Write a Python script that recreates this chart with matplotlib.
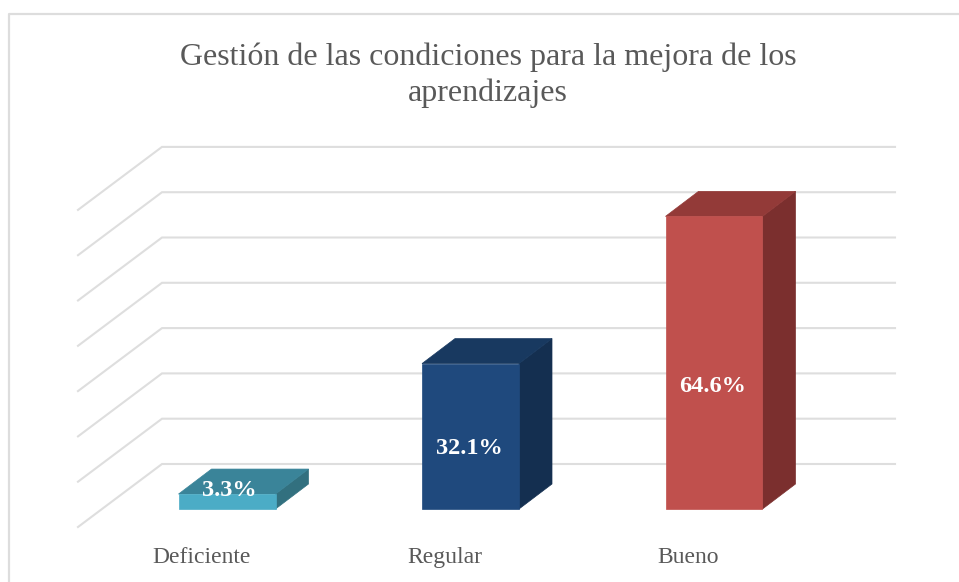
import matplotlib
matplotlib.use("Agg")
import matplotlib.pyplot as plt
from matplotlib.patches import Polygon

categories = ["Deficiente", "Regular", "Bueno"]
values = [3.3, 32.1, 64.6]
value_labels = ["3.3%", "32.1%", "64.6%"]
grid_values = [0, 10, 20, 30, 40, 50, 60, 70]

front_colors = ["#4BACC6", "#1F497D", "#C0504D"]
top_colors = ["#3A8499", "#183960", "#933A38"]
side_colors = ["#32707F", "#142F50", "#7B2F2E"]

W, H = 959, 582
# pixel scale of the chart
x0, x_step = 227, 243.5
y0, y_step = 509, 4.53

plt.rcParams["font.family"] = ["Liberation Serif", "DejaVu Serif"]
fig = plt.figure(figsize=(W / 100, H / 100), dpi=100)
ax = fig.add_axes([0, 0, 1, 1])
ax.set_xlim(-x0 / x_step, (W - x0) / x_step)
ax.set_ylim((y0 - H) / y_step, y0 / y_step)
ax.axis("off")

px = 1 / x_step
py = 1 / y_step

# chart border, only top and left show in the picture
ax.plot([(9 - x0) * px, (9 - x0) * px, (W - x0) * px],
        [(y0 - H) * py, (y0 - 14) * py, (y0 - 14) * py], color="#DDDDDD", lw=1.6, zorder=1)

# gridlines: back wall plus the slanted left wall
back_left = (162 - x0) * px
back_right = (895 - x0) * px
front_left = (78 - x0) * px
for g in grid_values:
    yb = g + 45 * py
    ax.plot([front_left, back_left, back_right], [yb - 63 * py, yb, yb],
            color="#DEDEDE", lw=1.5, zorder=2, solid_joinstyle="miter")

# 3D looking bars
half = 48.5 * px
dx, dy = 33 * px, 25 * py
for i, v in enumerate(values):
    l, r = i - half, i + half
    ax.add_patch(Polygon([(r, 0), (r + dx, dy), (r + dx, v + dy), (r, v)], fc=side_colors[i], ec=side_colors[i], lw=0.5, zorder=3))
    ax.add_patch(Polygon([(l, v), (r, v), (r + dx, v + dy), (l + dx, v + dy)], fc=top_colors[i], ec=top_colors[i], lw=0.5, zorder=3))
    ax.add_patch(Polygon([(l, 0), (r, 0), (r, v), (l, v)], fc=front_colors[i], ec=front_colors[i], lw=0.5, zorder=3))

label_x = [2 * px, 1 - 1 * px, 2 - 1 * px]
label_y = [(509 - 491) * py, (509 - 448) * py, (509 - 386) * py]
for i, txt in enumerate(value_labels):
    ax.text(label_x[i], label_y[i], txt, color="white", fontsize=17.5, fontweight="bold",
            ha="center", va="center", zorder=4)

for i, c in enumerate(categories):
    ax.text(i - 25.5 * px, (509 - 563) * py, c, color="#595959", fontsize=17,
            ha="center", va="baseline", zorder=4)

ax.text((488 - x0) * px, (509 - 75) * py, "Gestión de las condiciones para la mejora de los\naprendizajes",
        color="#595959", fontsize=23, ha="center", va="center", linespacing=1.3, zorder=4)

fig.savefig("out.png", dpi=100)
